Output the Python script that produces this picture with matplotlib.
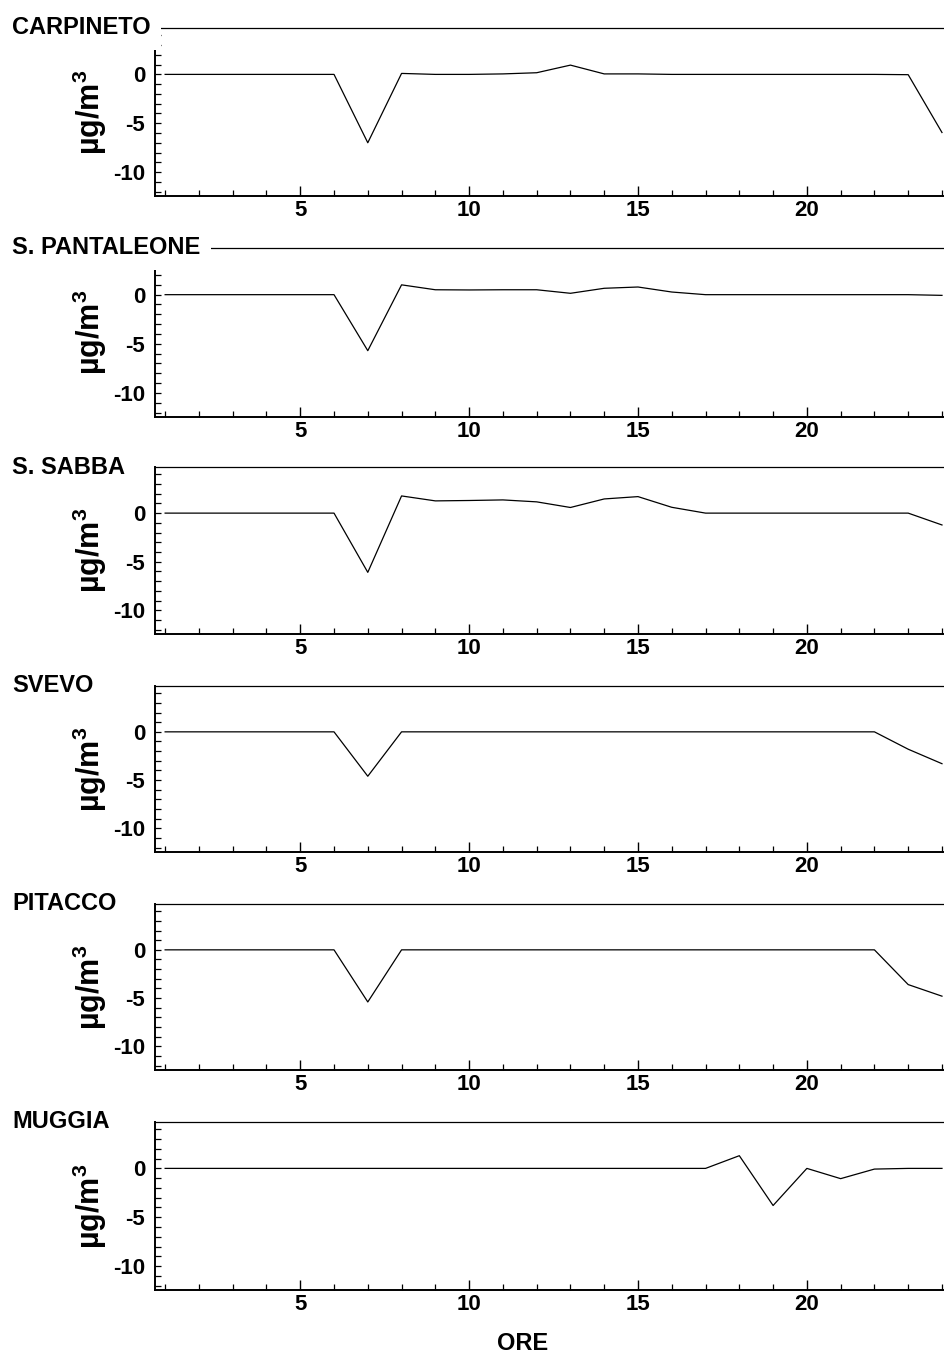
import matplotlib
matplotlib.use("Agg")
import matplotlib.pyplot as plt
from matplotlib.ticker import MultipleLocator

plt.rcParams['font.family'] = ['Liberation Sans', 'DejaVu Sans']
plt.rcParams['font.weight'] = 'bold'
plt.rcParams['axes.unicode_minus'] = False
plt.rcParams['mathtext.fontset'] = 'custom'
plt.rcParams['mathtext.rm'] = 'Liberation Sans'
plt.rcParams['mathtext.bf'] = 'Liberation Sans:bold'

ore = list(range(1, 25))

stazioni = ["CARPINETO", "S. PANTALEONE", "S. SABBA", "SVEVO", "PITACCO", "MUGGIA"]

carpineto = [0, 0, 0, 0, 0, 0, -7.0, 0.1, 0, 0, 0.05, 0.17, 0.95, 0.05, 0.05, 0,
             0, 0, 0, 0, 0, 0, -0.03, -5.95]
pantaleone = [0, 0, 0, 0, 0, 0, -5.7, 1.0, 0.5, 0.48, 0.5, 0.5, 0.14, 0.65, 0.78, 0.27,
              0, 0, 0, 0, 0, 0, 0, -0.07]
sabba = [0, 0, 0, 0, 0, 0, -6.1, 1.77, 1.26, 1.3, 1.36, 1.16, 0.58, 1.46, 1.7, 0.6,
         0, 0, 0, 0, 0, 0, 0, -1.22]
svevo = [0, 0, 0, 0, 0, 0, -4.6, 0, 0, 0, 0, 0, 0, 0, 0, 0,
         0, 0, 0, 0, 0, 0, -1.8, -3.3]
pitacco = [0, 0, 0, 0, 0, 0, -5.4, 0, 0, 0, 0, 0, 0, 0, 0, 0,
           0, 0, 0, 0, 0, 0, -3.6, -4.8]
muggia = [0, 0, 0, 0, 0, 0, 0, 0, 0, 0, 0, 0, 0, 0, 0, 0,
          0, 1.3, -3.8, 0, -1.05, -0.07, 0, 0]

serie = [carpineto, pantaleone, sabba, svevo, pitacco, muggia]

W, H = 944, 1352
fig = plt.figure(figsize=(W / 100, H / 100), dpi=100)

# top line / bottom spine of each panel, in pixels from the top
bordi = [(28, 196), (248, 417), (467, 634), (686, 852), (904, 1070), (1122, 1290)]
x0 = 155

for nome, valori, (ytop, ybot) in zip(stazioni, serie, bordi):
    ax = fig.add_axes([x0 / W, 1 - ybot / H, 1 - x0 / W, (ybot - ytop) / H])
    ax.plot(ore, valori, color='black', lw=0.9)
    ax.set_xlim(0.70, 24.06)
    ax.set_ylim(-12.45, 4.75)

    ax.spines['right'].set_visible(False)
    for s in ['left', 'bottom']:
        ax.spines[s].set_linewidth(1.4)
    ax.spines['top'].set_linewidth(0.9)

    ax.xaxis.set_major_locator(MultipleLocator(5))
    ax.xaxis.set_minor_locator(MultipleLocator(1))
    ax.yaxis.set_major_locator(MultipleLocator(5))
    ax.yaxis.set_minor_locator(MultipleLocator(1))
    ax.tick_params(axis='x', which='major', direction='in', length=7.5, width=1.0,
                   labelsize=16, pad=3)
    ax.tick_params(axis='x', which='minor', direction='in', length=4, width=0.9)
    ax.tick_params(axis='y', which='both', direction='in', length=4.5, width=0.9,
                   labelsize=16, pad=7)
    ax.tick_params(top=False, right=False, which='both')
    ax.set_xticks([5, 10, 15, 20])
    ax.set_yticks([-10, -5, 0])

    ax.text(-0.083, 0.5, r'µg/m$^\mathbf{3}$', transform=ax.transAxes, rotation=90,
            ha='center', va='center', fontsize=22, fontweight='bold')

    # station name sits on the top frame line, masking it
    fig.text(12 / W, 1 - ytop / H, nome, ha='left', va='center', fontsize=17,
             fontweight='bold', zorder=10,
             bbox=dict(facecolor='white', edgecolor='none', pad=7.5))

fig.text(523 / W, 1 - 1343 / H, "ORE", ha='center', va='center', fontsize=17,
         fontweight='bold')

fig.savefig("out.png", dpi=100)
